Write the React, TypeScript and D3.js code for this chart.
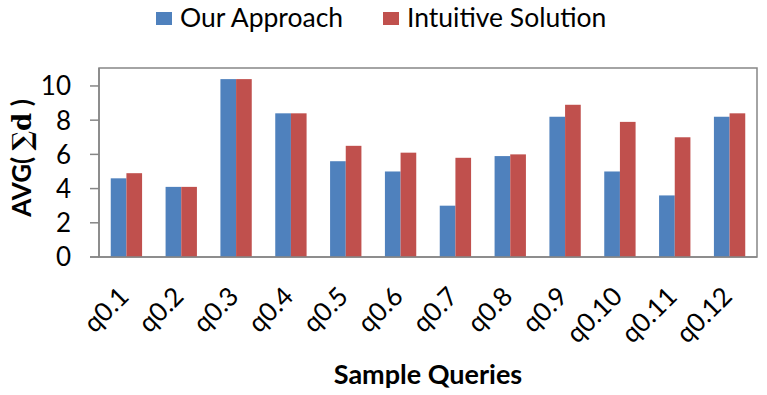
import React from "react";
import * as d3 from "d3";

const categories = ["q0.1","q0.2","q0.3","q0.4","q0.5","q0.6","q0.7","q0.8","q0.9","q0.10","q0.11","q0.12"];
const seriesNames = ["Our Approach", "Intuitive Solution"];
const ourApproach = [4.6, 4.1, 10.4, 8.4, 5.6, 5.0, 3.0, 5.9, 8.2, 5.0, 3.6, 8.2];
const intuitiveSolution = [4.9, 4.1, 10.4, 8.4, 6.5, 6.1, 5.8, 6.0, 8.9, 7.9, 7.0, 8.4];
const yTicks = [0, 2, 4, 6, 8, 10];
const colors = ["#4F81BD", "#C0504D"];

const W = 767, H = 395;
const m = { left: 99, right: 10, top: 68, bottom: 138 };
const FONT = "Lato, 'Open Sans', sans-serif";

export default function App() {
  const x0 = d3.scaleBand().domain(categories).range([m.left, W - m.right]).paddingInner(0).paddingOuter(0);
  const bw = x0.bandwidth();
  const groupW = bw * 2 / 3.5;
  const x1 = d3.scaleBand().domain(seriesNames).range([0, groupW]).padding(0);
  const y = d3.scaleLinear().domain([0, 11.05]).range([H - m.bottom, m.top]);
  const series = [ourApproach, intuitiveSolution];
  const axisColor = "#868686";
  const y0 = y(0);

  return (
    <svg width={W} height={H} style={{ position: "absolute", left: 0, top: 0, background: "#fff" }} fontFamily={FONT}>
      {/* legend */}
      <g>
        <rect x={156} y={12} width={16} height={13} fill={colors[0]} />
        <text x={180} y={27} fontSize={26.5} fill="#000">{seriesNames[0]}</text>
        <rect x={383} y={12} width={16} height={13} fill={colors[1]} />
        <text x={407} y={27} fontSize={26.5} fill="#000">{seriesNames[1]}</text>
      </g>
      {/* plot border */}
      <rect x={m.left} y={m.top} width={W - m.right - m.left} height={y0 - m.top} fill="none" stroke={axisColor} strokeWidth={1.5} />
      {/* bars */}
      {categories.map((c, i) => (
        <g key={c} transform={`translate(${(x0(c) as number) + (bw - groupW) / 2},0)`}>
          {series.map((s, j) => (
            <rect key={j} x={x1(seriesNames[j]) as number} y={y(s[i])} width={x1.bandwidth()} height={y0 - y(s[i])} fill={colors[j]} />
          ))}
        </g>
      ))}
      {/* y axis */}
      <line x1={m.left} x2={m.left} y1={m.top} y2={y0} stroke={axisColor} strokeWidth={1.5} />
      {yTicks.map((t) => (
        <g key={t}>
          <line x1={m.left - 9} x2={m.left} y1={y(t)} y2={y(t)} stroke={axisColor} strokeWidth={1.5} />
          <text x={71} y={y(t)} dy="0.36em" textAnchor="end" fontSize={26}>{t}</text>
        </g>
      ))}
      <line x1={m.left - 9} x2={W - m.right} y1={y0} y2={y0} stroke={axisColor} strokeWidth={1.5} />
      {/* x labels */}
      {categories.map((c) => {
        const cx = (x0(c) as number) + bw / 2;
        return (
          <text key={c} transform={`translate(${cx + 4},${298}) rotate(-45)`} textAnchor="end" fontSize={26}>{c}</text>
        );
      })}
      {/* axis titles */}
      <text x={(m.left + W - m.right) / 2} y={384} textAnchor="middle" fontSize={27} fontWeight="bold">Sample Queries</text>
      <text transform={`translate(31,158) rotate(-90)`} textAnchor="middle" fontSize={26} fontWeight="bold">
        <tspan>AVG( </tspan>
        <tspan fontFamily="'DejaVu Serif', serif">∑d</tspan>
        <tspan> )</tspan>
      </text>
    </svg>
  );
}
